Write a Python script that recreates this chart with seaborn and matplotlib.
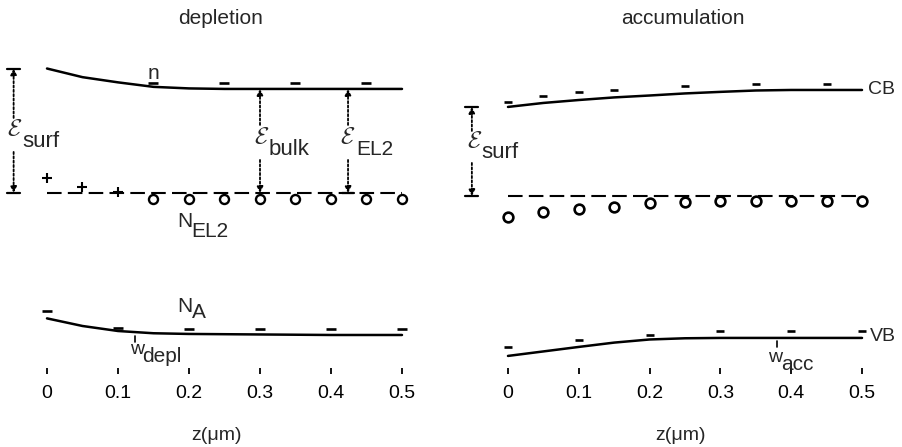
import numpy as np
import pandas as pd
import matplotlib
matplotlib.use("Agg")
import matplotlib.pyplot as plt
import seaborn as sns

# ---------------- data (z in um, energy in eV-like units) ----------------
# depletion panel
z_cb_d = [0.0, 0.05, 0.10, 0.15, 0.20, 0.25, 0.30, 0.40, 0.50]
E_cb_d = [1.540, 1.490, 1.460, 1.434, 1.425, 1.422, 1.422, 1.422, 1.422]
z_e_d = [0.15, 0.25, 0.35, 0.45]
E_e_d = [1.457, 1.457, 1.457, 1.457]
z_el2_d = [0.0, 0.5]
E_el2_d = [0.821, 0.821]
z_ion_d = [0.0, 0.05, 0.10]
E_ion_d = [0.908, 0.857, 0.828]
z_neu_d = [0.15, 0.20, 0.25, 0.30, 0.35, 0.40, 0.45, 0.50]
E_neu_d = [0.786, 0.786, 0.786, 0.786, 0.786, 0.786, 0.786, 0.786]
z_vb_d = [0.0, 0.05, 0.10, 0.15, 0.20, 0.30, 0.40, 0.50]
E_vb_d = [0.096, 0.052, 0.023, 0.010, 0.006, 0.003, 0.0, 0.0]
z_na_d = [0.0, 0.1, 0.2, 0.3, 0.4, 0.5]
E_na_d = [0.140, 0.042, 0.035, 0.035, 0.035, 0.033]
w_depl = 0.124
z_bulk = 0.30
z_el2_arrow = 0.424

# accumulation panel
z_cb_a = [0.0, 0.05, 0.10, 0.15, 0.20, 0.25, 0.30, 0.35, 0.40, 0.50]
E_cb_a = [1.318, 1.341, 1.358, 1.373, 1.384, 1.396, 1.405, 1.413, 1.416, 1.416]
z_e_a = [0.0, 0.05, 0.10, 0.15, 0.25, 0.35, 0.45]
E_e_a = [1.347, 1.382, 1.405, 1.416, 1.439, 1.451, 1.451]
z_el2_a = [0.0, 0.5]
E_el2_a = [0.803, 0.803]
z_neu_a = [0.0, 0.05, 0.10, 0.15, 0.20, 0.25, 0.30, 0.35, 0.40, 0.45, 0.50]
E_neu_a = [0.682, 0.711, 0.728, 0.740, 0.763, 0.769, 0.775, 0.775, 0.775, 0.775, 0.775]
z_vb_a = [0.0, 0.05, 0.10, 0.15, 0.20, 0.25, 0.30, 0.50]
E_vb_a = [-0.121, -0.095, -0.069, -0.044, -0.026, -0.019, -0.017, -0.017]
z_h_a = [0.0, 0.1, 0.2, 0.3, 0.4, 0.5]
E_h_a = [-0.069, -0.029, 0.0, 0.023, 0.023, 0.023]
w_acc = 0.38

xticks = [0, 0.1, 0.2, 0.3, 0.4, 0.5]
xticklabels = ["0", "0.1", "0.2", "0.3", "0.4", "0.5"]
titles = ["depletion", "accumulation"]
xlabel = "z(\u03bcm)"

# ---------------- style ----------------
sns.set_theme(style="white")
plt.rcParams["font.family"] = ["Liberation Sans", "DejaVu Sans"]
plt.rcParams["mathtext.fontset"] = "custom"
plt.rcParams["mathtext.rm"] = "Liberation Sans"
plt.rcParams["mathtext.it"] = "Liberation Sans:italic"
plt.rcParams["mathtext.cal"] = "cmsy10"

W, H = 903, 447
fig = plt.figure(figsize=(W / 100, H / 100), dpi=100)
ylo, yhi = -0.1908, 1.647
axb, axh = 1 - 368 / H, (368 - 50) / H
axL = fig.add_axes([39.9 / W, axb, 369.2 / W, axh])
axR = fig.add_axes([500.9 / W, axb, 368.2 / W, axh])

K = "black"
LW = 1.8
dash = (0, (7, 3))


def line(ax, z, e, **kw):
    sns.lineplot(x=z, y=e, ax=ax, color=K, estimator=None, sort=False, **kw)


def marks(ax, z, e, marker, ms, mew, mfc=K):
    sns.lineplot(x=z, y=e, ax=ax, color=K, estimator=None, sort=False,
                 linestyle="", marker=marker, markersize=ms, markeredgewidth=mew,
                 markerfacecolor=mfc, markeredgecolor=K)


def darrow(ax, z, e_from, e_to):
    ax.annotate("", xy=(z, e_to), xytext=(z, e_from),
                arrowprops=dict(arrowstyle="-|>", linestyle=(0, (1.2, 1.2)), lw=1.3,
                                color=K, mutation_scale=9, shrinkA=0, shrinkB=0),
                annotation_clip=False)


def cap(ax, z, e, half=0.009):
    ax.plot([z - half, z + half], [e, e], color=K, lw=1.6, clip_on=False)


def E(py):
    return (335 - py) / 173


def lab(ax, z, py, main, sub, fs_main, fs_sub, dx, dy):
    ax.text(z, E(py), main, fontsize=fs_main, ha="left", va="baseline", clip_on=False)
    ax.annotate(sub, xy=(z, E(py)), xytext=(dx, -dy), textcoords="offset pixels",
                fontsize=fs_sub, ha="left", va="baseline", annotation_clip=False)


CAL = r"$\mathcal{E}$"

# ---------------- depletion ----------------
ax = axL
line(ax, z_cb_d, E_cb_d, lw=LW)
line(ax, z_vb_d, E_vb_d, lw=LW)
line(ax, z_el2_d, E_el2_d, lw=1.5, linestyle=dash)
marks(ax, z_e_d, E_e_d, "_", 7, 1.9)
marks(ax, z_na_d, E_na_d, "_", 7, 1.9)
marks(ax, z_ion_d, E_ion_d, "+", 6.5, 1.5)
marks(ax, z_neu_d, E_neu_d, "o", 6.5, 1.7, mfc="white")

# E_surf
zs = -0.047
cap(ax, zs, E_cb_d[0]); cap(ax, zs, E_el2_d[0])
darrow(ax, zs, E(118), E_cb_d[0])
darrow(ax, zs, E(152), E_el2_d[0])
lab(ax, -0.0563, 135, CAL, "surf", 17, 16, 15, 12)
# E_bulk
darrow(ax, z_bulk, E(125), E_cb_d[-1])
darrow(ax, z_bulk, E(160), E_el2_d[0])
lab(ax, 0.2915, 143, CAL, "bulk", 17, 16, 15, 12)
# E_EL2
cap(ax, z_el2_arrow, E_el2_d[0])
darrow(ax, z_el2_arrow, E(125), E_cb_d[-1])
darrow(ax, z_el2_arrow, E(160), E_el2_d[0])
lab(ax, 0.4127, 143, CAL, "EL2", 17, 15, 16, 12)

ax.text(0.15, E(74), "n", fontsize=15, ha="center", va="center")
lab(ax, 0.183, 227, "N", "EL2", 15, 15, 14, 10)
lab(ax, 0.183, 312, "N", "A", 15, 15, 15, 6)
ax.plot([w_depl, w_depl], [E(336), E(342)], color=K, lw=1.2)
lab(ax, 0.117, 354, "w", "depl", 14, 15, 12, 8)

# ---------------- accumulation ----------------
ax = axR
line(ax, z_cb_a, E_cb_a, lw=LW)
line(ax, z_vb_a, E_vb_a, lw=LW)
line(ax, z_el2_a, E_el2_a, lw=1.5, linestyle=dash)
marks(ax, z_e_a, E_e_a, "_", 6, 1.9)
marks(ax, z_h_a, E_h_a, "_", 6, 1.9)
marks(ax, z_neu_a, E_neu_a, "o", 7, 1.9, mfc="white")

zs = -0.051
cap(ax, zs, E_cb_a[0]); cap(ax, zs, E_el2_a[0])
darrow(ax, zs, E(131), E_cb_a[0])
darrow(ax, zs, E(163), E_el2_a[0])
lab(ax, -0.0579, 147, CAL, "surf", 17, 16, 14, 11)
ax.text(0.508, E_cb_a[-1], "CB", fontsize=14, ha="left", va="center", clip_on=False)
ax.text(0.511, E(337), "VB", fontsize=14, ha="left", va="center", clip_on=False)
ax.plot([w_acc, w_acc], [E(341), E(347)], color=K, lw=1.2)
lab(ax, 0.367, 362, "w", "acc", 14, 15, 13, 8)

for ax, t, xc, xl in [(axL, titles[0], 221, 217), (axR, titles[1], 683, 681)]:
    ax.set_xlim(-0.01, 0.51)
    ax.set_ylim(ylo, yhi)
    ax.set_xticks(xticks)
    ax.set_xticklabels(xticklabels)
    ax.set_yticks([])
    ax.set_xlabel("")
    ax.set_ylabel("")
    for s in ax.spines.values():
        s.set_visible(False)
    ax.tick_params(axis="x", bottom=True, direction="out", length=4, width=1.3,
                   color=K, pad=8, labelsize=14, labelcolor=K)
    ax.set_facecolor("white")
    ax.patch.set_alpha(0)
    fig.text(xc / W, 1 - 19 / H, t, fontsize=15, ha="center", va="center")
    fig.text(xl / W, 1 - 435 / H, xlabel, fontsize=14, ha="center", va="center")

fig.savefig("out.png", dpi=100, facecolor="white")
